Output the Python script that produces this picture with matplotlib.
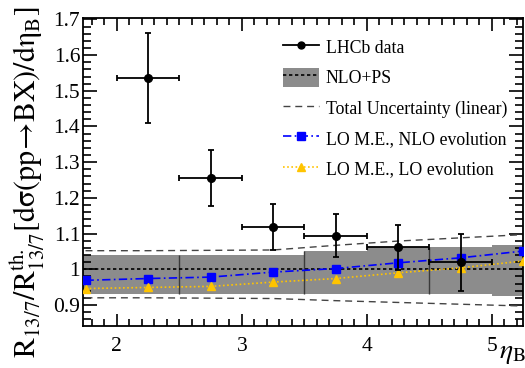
import numpy as np
import matplotlib
matplotlib.use("Agg")
import matplotlib.pyplot as plt
from matplotlib.patches import Patch
from matplotlib.lines import Line2D

plt.rcParams['font.family'] = ['Liberation Serif', 'DejaVu Serif']
plt.rcParams['mathtext.fontset'] = 'stix'

# LHCb data
eta_data = [2.25, 2.75, 3.25, 3.75, 4.25, 4.75]
eta_halfwidth = [0.25] * 6
ratio_data = [1.535, 1.255, 1.118, 1.094, 1.061, 1.020]
err_up = [0.126, 0.079, 0.066, 0.062, 0.064, 0.080]
err_dn = [0.125, 0.079, 0.065, 0.061, 0.062, 0.081]

# NLO+PS band (bins of 0.5)
band_edges = [1.5, 2.0, 2.5, 3.0, 3.5, 4.0, 4.5, 5.0, 5.5]
band_hi = [1.039, 1.039, 1.039, 1.039, 1.050, 1.061, 1.061, 1.067]
band_lo = [0.930, 0.930, 0.932, 0.932, 0.932, 0.932, 0.930, 0.925]
band_central = 1.0
band_dividers = [2.5, 3.5, 4.5]

# Theory curves
eta_theory = [1.75, 2.25, 2.75, 3.25, 3.75, 4.25, 4.75, 5.25]
unc_hi = [1.052, 1.052, 1.053, 1.054, 1.067, 1.079, 1.088, 1.097]
unc_lo = [0.920, 0.920, 0.919, 0.918, 0.912, 0.907, 0.902, 0.897]
lo_nlo_evol = [0.969, 0.974, 0.978, 0.992, 1.002, 1.018, 1.032, 1.051]
lo_lo_evol = [0.946, 0.949, 0.952, 0.964, 0.974, 0.990, 1.004, 1.023]

fig = plt.figure(figsize=(5.25, 3.68), dpi=100)
W, H = 525, 368
ax = fig.add_axes([83 / W, 1 - 326 / H, (523 - 83) / W, (326 - 18) / H])

band_col = '#8c8c8c'
# band
for i in range(len(band_hi)):
    ax.bar(band_edges[i], band_hi[i] - band_lo[i], bottom=band_lo[i],
           width=band_edges[i + 1] - band_edges[i], align='edge',
           color=band_col, linewidth=0, zorder=1)
for xd in band_dividers:
    k = band_edges.index(xd)
    ax.vlines(xd, min(band_lo[k - 1], band_lo[k]), max(band_hi[k - 1], band_hi[k]),
              color='#3a3a3a', lw=1.0, zorder=1.5)
ax.axhline(band_central, color='black', lw=1.2, ls=(0, (2.0, 1.6)), zorder=2)

# total uncertainty
ax.plot(eta_theory, unc_hi, color='#444444', lw=1.0, ls=(0, (5, 3.5)), zorder=2)
ax.plot(eta_theory, unc_lo, color='#444444', lw=1.0, ls=(0, (5, 3.5)), zorder=2)

# LO curves
ax.plot(eta_theory, lo_nlo_evol, color='#0000ff', lw=1.2, ls=(0, (5, 2, 1, 2)),
        marker='s', ms=6, zorder=3)
ax.plot(eta_theory, lo_lo_evol, color='#ffc400', lw=1.2, ls=(0, (1, 1.5)),
        marker='^', ms=5.5, zorder=3)

# data
ax.errorbar(eta_data, ratio_data, xerr=eta_halfwidth, yerr=[err_dn, err_up],
            fmt='o', color='black', ms=5.5, lw=1.3, capsize=2.5, capthick=1.3,
            zorder=4)

ax.set_xlim(1.73, 5.25)
ax.set_ylim(0.841, 1.704)
ax.set_xticks([2, 3, 4, 5])
ax.set_xticks(np.arange(1.8, 5.25, 0.1), minor=True)
ax.set_yticks(np.arange(0.9, 1.71, 0.1))
ax.set_yticks(np.arange(0.86, 1.70, 0.02), minor=True)
ax.set_xticklabels(['2', '3', '4', '5'])
ax.set_yticklabels(['0.9', '1', '1.1', '1.2', '1.3', '1.4', '1.5', '1.6', '1.7'])
ax.tick_params(which='both', direction='in', top=True, right=True,
               labelsize=15.5, width=1.2, color='black')
ax.tick_params(axis='x', which='major', length=9, pad=8)
ax.tick_params(axis='x', which='minor', length=5)
ax.tick_params(axis='y', which='major', length=10, pad=2)
ax.tick_params(axis='y', which='minor', length=6)
for s in ax.spines.values():
    s.set_linewidth(1.3)

fig.text(28 / W, 1 - 6 / H,
         r'$\mathrm{R_{13/7}/R^{th.}_{13/7}[d\sigma(pp\!\rightarrow\! BX)/d\eta_{B}]}$',
         rotation=90, ha='center', va='top', fontsize=21.5)
fig.text(499 / W, 1 - 358 / H, r'$\eta_{\mathrm{B}}$', fontsize=20,
         ha='left', va='baseline')

handles = [
    Line2D([], [], color='black', lw=1.3, marker='o', ms=5),
    (Patch(facecolor=band_col, edgecolor='none'),
     Line2D([], [], color='black', lw=1.2, ls=(0, (2.0, 1.6)))),
    Line2D([], [], color='#444444', lw=1.0, ls=(0, (5, 3.5))),
    Line2D([], [], color='#0000ff', lw=1.2, ls=(0, (5, 2, 1, 2)), marker='s', ms=6),
    Line2D([], [], color='#ffc400', lw=1.2, ls=(0, (1, 1.5)), marker='^', ms=5.5),
]
labels = ['LHCb data', 'NLO+PS', 'Total Uncertainty (linear)',
          'LO M.E., NLO evolution', 'LO M.E., LO evolution']
leg = ax.legend(handles, labels, loc='upper left', bbox_to_anchor=(0.455, 0.937),
                frameon=False, fontsize=12.8, handlelength=2.0, handleheight=1.25,
                labelspacing=0.62, handletextpad=0.4, borderaxespad=0, borderpad=0)

fig.savefig('out.png', dpi=100)
